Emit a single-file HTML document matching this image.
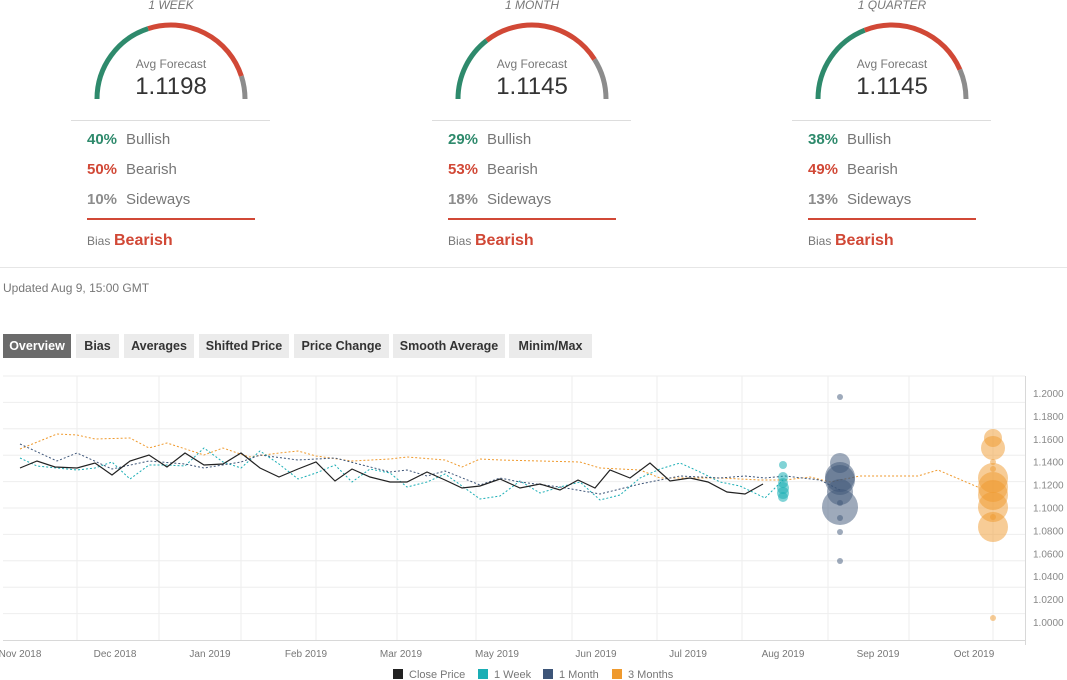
<!DOCTYPE html>
<html><head><meta charset="utf-8"><style>
html,body{margin:0;padding:0;background:#fff;width:1067px;height:680px;overflow:hidden;font-family:"Liberation Sans",sans-serif}
</style></head><body>
<svg id="s" width="1067" height="680" xmlns="http://www.w3.org/2000/svg" font-family="Liberation Sans, sans-serif">
<line x1="0" y1="267.5" x2="1067" y2="267.5" stroke="#e6e6e6"/>
<text x="3" y="292" font-size="12" fill="#777">Updated Aug 9, 15:00 GMT</text>
<rect x="3" y="334" width="68" height="24" fill="#6b6b6b"/><text x="37" y="350" font-size="12.5" font-weight="bold" fill="#fff" text-anchor="middle">Overview</text>
<rect x="76" y="334" width="43" height="24" fill="#ebebeb"/><text x="97.5" y="350" font-size="12.5" font-weight="bold" fill="#333" text-anchor="middle">Bias</text>
<rect x="124" y="334" width="70" height="24" fill="#ebebeb"/><text x="159" y="350" font-size="12.5" font-weight="bold" fill="#333" text-anchor="middle">Averages</text>
<rect x="199" y="334" width="90" height="24" fill="#ebebeb"/><text x="244" y="350" font-size="12.5" font-weight="bold" fill="#333" text-anchor="middle">Shifted Price</text>
<rect x="294" y="334" width="95" height="24" fill="#ebebeb"/><text x="341.5" y="350" font-size="12.5" font-weight="bold" fill="#333" text-anchor="middle">Price Change</text>
<rect x="393" y="334" width="112" height="24" fill="#ebebeb"/><text x="449" y="350" font-size="12.5" font-weight="bold" fill="#333" text-anchor="middle">Smooth Average</text>
<rect x="509" y="334" width="83" height="24" fill="#ebebeb"/><text x="550.5" y="350" font-size="12.5" font-weight="bold" fill="#333" text-anchor="middle">Minim/Max</text>
<g id="grid"></g>
<g id="series"></g>
<g id="top"></g>
</svg>
<script>
const s=document.getElementById('s');
const NS='http://www.w3.org/2000/svg';
function el(t,a,txt,parent){const e=document.createElementNS(NS,t);for(const k in a)e.setAttribute(k,a[k]);if(txt!=null)e.textContent=txt;(parent||s).appendChild(e);return e;}
const G=document.getElementById('grid'),S=document.getElementById('series'),T=document.getElementById('top');
// horizontal grid
for(let i=0;i<10;i++){const y=376+i*26.4;el('line',{x1:3,x2:1025,y1:y,y2:y,stroke:'#eeeeee'},null,G);}
el('line',{x1:3,x2:1025,y1:640.5,y2:640.5,stroke:'#d8d8d8'},null,G);
el('line',{x1:1025.5,x2:1025.5,y1:376,y2:645,stroke:'#d8d8d8'},null,G);
[77,159,241,316,397,476,572,657,742,828,909,993].forEach(x=>el('line',{x1:x,x2:x,y1:376,y2:640,stroke:'#eeeeee'},null,G));
['1.2000','1.1800','1.1600','1.1400','1.1200','1.1000','1.0800','1.0600','1.0400','1.0200','1.0000'].forEach((t,i)=>el('text',{x:1033,y:397+i*22.9,'font-size':10,fill:'#888'},t,G));
[['Nov 2018',20],['Dec 2018',115],['Jan 2019',210],['Feb 2019',306],['Mar 2019',401],['May 2019',497],['Jun 2019',596],['Jul 2019',688],['Aug 2019',783],['Sep 2019',878],['Oct 2019',974]].forEach(([t,x])=>el('text',{x:x,y:657,'font-size':10,fill:'#777','text-anchor':'middle'},t,G));
// legend
[['Close Price',393,'#222'],['1 Week',478,'#1aaeb5'],['1 Month',543,'#3d5578'],['3 Months',612,'#ef9a2e']].forEach(([t,x,c])=>{el('rect',{x:x,y:669,width:10,height:10,fill:c},null,G);el('text',{x:x+16,y:678,'font-size':11,fill:'#777'},t,G);});
function pl(pts,c,dash,w){el('polyline',{points:pts,fill:'none',stroke:c,'stroke-width':w||1,'stroke-dasharray':dash||''},null,S);}
pl('20,449 57,434 77,435 95,439 130,438 149,448 167,443 204,455 223,448 249,457 279,453 298,451 316,456 352,461 390,459 407,457 445,460 462,467 480,459 500,460 540,461 580,462 600,468 640,470 660,478 700,478 720,478 760,480 785,480 810,477 830,482 860,476 918,476 938,470 980,488','#ef9a2e','2,2');
pl('20,458 37,466 77,470 95,468 112,462 130,479 149,465 167,465 185,466 204,448 223,462 241,468 260,451 279,464 298,479 316,473 335,465 352,482 370,469 390,473 407,487 427,482 445,474 462,486 480,499 500,496 520,481 540,493 560,487 580,482 600,500 620,495 640,478 660,469 680,463 700,472 720,482 740,486 765,498 783,480','#1aaeb5','2,2');
pl('20,444 57,461 77,453 112,469 149,461 185,464 204,468 241,462 260,455 298,460 335,458 390,472 407,470 427,476 445,471 480,485 500,478 520,482 560,487 600,494 640,484 680,476 720,478 745,476 765,478 785,476 820,480 840,490','#3d5578','2,2');
pl('20,468 37,461 55,467 77,468 95,463 112,475 130,461 149,455 167,467 185,453 204,465 223,464 241,453 260,468 279,477 298,469 316,462 335,481 352,469 370,477 390,482 407,482 427,472 445,480 462,488 480,486 500,479 520,488 540,484 560,490 578,480 595,488 610,470 630,478 650,463 670,481 690,478 708,482 727,492 745,494 763,484','#222','',1.2);
[[465,4],[477,5],[483,5],[488,6],[493,6],[497,5]].forEach(([y,r])=>el('circle',{cx:783,cy:y,r:r,fill:'#1aaeb5','fill-opacity':0.55},null,S));
[[463,10],[477,15],[480,15],[492,13],[507,18],[397,3],[503,3],[518,3],[532,3],[561,3]].forEach(([y,r])=>el('circle',{cx:840,cy:y,r:r,fill:'#3d5578','fill-opacity':0.5},null,S));
[[438,9],[448,12],[478,15],[487,15],[495,15],[507,15],[527,15],[462,3],[469,3],[517,3],[618,3]].forEach(([y,r])=>el('circle',{cx:993,cy:y,r:r,fill:'#ef9a2e','fill-opacity':0.5},null,S));
// gauges
const GR='#2e8a6c',RD='#d14836',GY='#8c8c8c';
function arc(cx,cy,r,a1,a2,c){const p=a=>[cx+r*Math.cos(a*Math.PI/180),cy-r*Math.sin(a*Math.PI/180)];const [x1,y1]=p(a1),[x2,y2]=p(a2);el('path',{d:`M${x1} ${y1} A${r} ${r} 0 0 1 ${x2} ${y2}`,fill:'none',stroke:c,'stroke-width':5},null,T);}
[[171,'1 WEEK','1.1198',40,50,10],[532,'1 MONTH','1.1145',29,53,18],[892,'1 QUARTER','1.1145',38,49,13]].forEach(([cx,title,val,b,be,sd])=>{
 el('text',{x:cx,y:9,'font-size':12,'font-style':'italic',fill:'#777','text-anchor':'middle'},title,T);
 const a1=180-b*1.8,a2=a1-be*1.8;
 arc(cx,99,74,180,a1,GR);arc(cx,99,74,a1,a2,RD);arc(cx,99,74,a2,0,GY);
 el('text',{x:cx,y:68,'font-size':12,fill:'#777','text-anchor':'middle'},'Avg Forecast',T);
 el('text',{x:cx,y:94,'font-size':24,fill:'#333','text-anchor':'middle'},val,T);
 const L=cx-100;
 el('line',{x1:L,x2:L+199,y1:120.5,y2:120.5,stroke:'#ddd'},null,T);
 [[b+'%','Bullish',GR,144],[be+'%','Bearish',RD,174],[sd+'%','Sideways',GY,204]].forEach(([p,t,c,y])=>{el('text',{x:L+16,y:y,'font-size':15,'font-weight':'bold',fill:c},p,T);el('text',{x:L+55,y:y,'font-size':15,fill:'#777'},t,T);});
 el('line',{x1:L+16,x2:L+184,y1:219,y2:219,stroke:RD,'stroke-width':2},null,T);
 el('text',{x:L+16,y:245,'font-size':12,fill:'#777'},'Bias',T);
 el('text',{x:L+43,y:245,'font-size':16,'font-weight':'bold',fill:RD},'Bearish',T);
});
</script>
</body></html>
